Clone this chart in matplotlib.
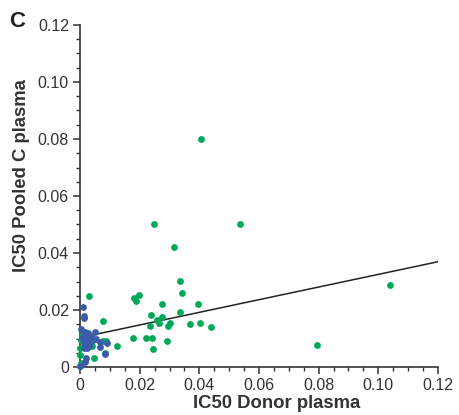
import numpy as np
import matplotlib
matplotlib.use("Agg")
import matplotlib.pyplot as plt
from matplotlib.ticker import MultipleLocator, FuncFormatter

plt.rcParams['font.family'] = ['Liberation Sans', 'DejaVu Sans']

# green group (x = donor plasma IC50, y = pooled C plasma IC50)
green_x = [0.0405, 0.0249, 0.0537, 0.0315, 0.0336, 0.0341, 0.0182, 0.0199, 0.0189,
           0.0274, 0.0394, 0.0238, 0.0336, 0.0274, 0.0259, 0.0266, 0.0302, 0.0294,
           0.0236, 0.0370, 0.0402, 0.0439, 0.0077, 0.0179, 0.0221, 0.0242, 0.0292,
           0.0246, 0.0125, 0.0078, 0.0087, 0.0083, 0.1040, 0.0793, 0.0029, 0.0018,
           0.0003, 0.0040, 0.0001, 0.0048, 0.0003, 0.0000, 0.0000, 0.0008]
green_y = [0.0800, 0.0501, 0.0501, 0.0420, 0.0301, 0.0261, 0.0241, 0.0252, 0.0232,
           0.0222, 0.0222, 0.0182, 0.0192, 0.0174, 0.0165, 0.0154, 0.0154, 0.0144,
           0.0143, 0.0150, 0.0153, 0.0141, 0.0162, 0.0103, 0.0103, 0.0103, 0.0092,
           0.0062, 0.0073, 0.0092, 0.0092, 0.0048, 0.0288, 0.0077, 0.0249, 0.0124,
           0.0095, 0.0075, 0.0042, 0.0033, 0.0013, 0.0003, 0.0066, 0.0110]

# blue group
blue_x = [0.0010, 0.0013, 0.0013, 0.0005, 0.0013, 0.0027, 0.0051, 0.0007, 0.0020,
          0.0030, 0.0040, 0.0012, 0.0025, 0.0035, 0.0068, 0.0090, 0.0015, 0.0025,
          0.0068, 0.0021, 0.0018, 0.0083, 0.0001, 0.0045, 0.0030, 0.0055, 0.0020]
blue_y = [0.0212, 0.0179, 0.0171, 0.0132, 0.0124, 0.0118, 0.0122, 0.0102, 0.0102,
          0.0102, 0.0102, 0.0084, 0.0084, 0.0087, 0.0087, 0.0083, 0.0068, 0.0066,
          0.0071, 0.0033, 0.0019, 0.0044, 0.0003, 0.0095, 0.0075, 0.0100, 0.0110]

# regression line
fit_intercept = 0.0103
fit_slope = 0.222

axis_color = '#333333'
green = '#00a859'
blue = '#3b5caa'

fig = plt.figure(figsize=(4.6, 4.15), dpi=100)
ax = fig.add_axes([80/460, 48/415, 358/460, 342/415])

ax.scatter(green_x, green_y, s=24, color=green, linewidths=0, zorder=3, clip_on=False)
ax.scatter(blue_x, blue_y, s=24, color=blue, linewidths=0, zorder=3, clip_on=False)

lx = np.array([0.0, 0.12])
ax.plot(lx, fit_intercept + fit_slope * lx, color='#222222', lw=1.1, zorder=2)

ax.set_xlim(0, 0.12)
ax.set_ylim(0, 0.12)
ax.xaxis.set_major_locator(MultipleLocator(0.02))
ax.xaxis.set_minor_locator(MultipleLocator(0.005))
ax.yaxis.set_major_locator(MultipleLocator(0.02))
ax.yaxis.set_minor_locator(MultipleLocator(0.005))
fmt = FuncFormatter(lambda v, p: '0' if abs(v) < 1e-9 else f'{v:.2f}')
ax.xaxis.set_major_formatter(fmt)
ax.yaxis.set_major_formatter(fmt)

for side in ['top', 'right']:
    ax.spines[side].set_visible(False)
for side in ['left', 'bottom']:
    ax.spines[side].set_color(axis_color)
    ax.spines[side].set_linewidth(1.2)

ax.tick_params(which='major', direction='out', length=5, width=1.1,
               color=axis_color, labelcolor=axis_color, labelsize=11.5, pad=3)
ax.tick_params(which='minor', direction='out', length=3, width=1.0, color=axis_color)

ax.set_xlabel('IC50 Donor plasma', fontsize=13.3, fontweight='bold', color=axis_color)
ax.set_ylabel('IC50 Pooled C plasma', fontsize=13.3, fontweight='bold', color=axis_color)
ax.xaxis.set_label_coords(0.55, -0.082)
ax.yaxis.set_label_coords(-0.14, 0.56)

fig.text(9/460, 1 - 27/415, 'C', fontsize=16, fontweight='bold', color='#222222',
         va='baseline')

fig.savefig('out.png', dpi=100)
